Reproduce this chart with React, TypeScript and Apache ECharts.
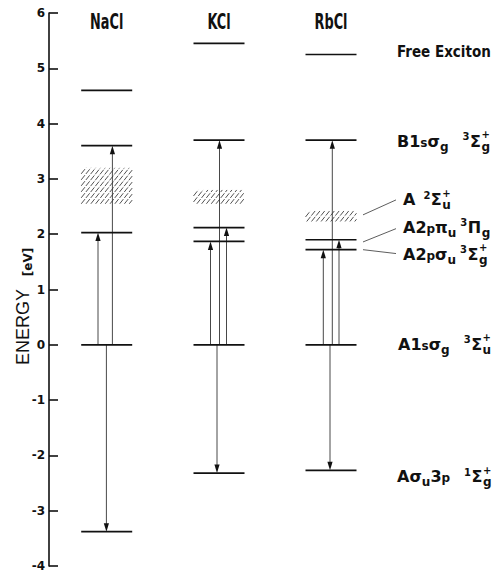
import React, { useEffect, useRef } from "react";
import * as echarts from "echarts";

// ---------------- data ----------------
const compounds = ["NaCl", "KCl", "RbCl"];
const levelsNaCl = [4.6, 3.6, 2.03, 0, -3.38];
const levelsKCl = [5.45, 3.7, 2.12, 1.87, 0, -2.32];
const levelsRbCl = [5.25, 3.7, 1.9, 1.72, 0, -2.27];
const bandNaCl = [2.55, 3.2];
const bandKCl = [2.55, 2.8];
const bandRbCl = [2.23, 2.42];
const transNaCl = [[0, 2.03], [0, 3.6], [0, -3.38]];
const transKCl = [[0, 1.87], [0, 3.7], [0, 2.12], [0, -2.32]];
const transRbCl = [[0, 1.72], [0, 3.7], [0, 1.9], [0, -2.27]];
const stateValues = [5.3, 3.68, 2.62, 2.12, 1.63, 0, -2.39];
const leaderFrom = [2.35, 1.86, 1.72];
const leaderTo = [2.62, 2.1, 1.65];
const yMin = -4;
const yMax = 6;
const yStep = 1;

// ---------------- layout ----------------
const COL_X = [57.7, 170, 282];
const HALF = 25.5;
const ARROW_DX = [
  [-8.7, 5.7, -0.3],
  [-8.5, 0.5, 7.5, -2],
  [-7.7, 1.3, 8, -1],
];
const LABEL_X = [348, 348, 354, 354, 354, 349, 348];
const LEADER_X0 = 314;
const LEADER_X1 = 347;
const HEADER_V = 5.84;
const INK = "#111";
const FAM = "'DejaVu Sans', sans-serif";
const FAM_C = "'DejaVu Sans Condensed', 'DejaVu Sans', sans-serif";
const M = 16;

type Tok = { t?: string; s?: number; dy?: number; g?: number; st?: Tok[]; f?: string };
const P = (t: string, s: number = M, dy: number = 0): Tok => ({ t, s, dy });
const G = (g: number): Tok => ({ g });
const ST = (a: Tok, b: Tok): Tok => ({ st: [a, b] });
const SUP = (t: string) => P(t, 10, -7);
const SUB = (t: string) => P(t, 12, 4);
const PLUS = () => P("+", 10, -9);

const labelTokens: Tok[][] = [
  [{ t: "Free Exciton", s: 15, dy: 0, f: FAM_C }],
  [P("B1"), P("s", 12), P("σ"), SUB("g"), G(14), SUP("3"), G(0.5), P("Σ"), G(0.5), ST(PLUS(), SUB("g"))],
  [P("A"), G(8), SUP("2"), G(0.5), P("Σ"), G(0.5), ST(PLUS(), SUB("u"))],
  [P("A2"), P("p", 12), P("π"), SUB("u"), G(4), SUP("3"), G(0.5), P("Π"), G(0.5), SUB("g")],
  [P("A2"), P("p", 12), P("σ"), SUB("u"), G(4), SUP("3"), G(0.5), P("Σ"), G(0.5), ST(PLUS(), SUB("g"))],
  [P("A1"), P("s", 12), P("σ"), SUB("g"), G(14), SUP("3"), G(0.5), P("Σ"), G(0.5), ST(PLUS(), SUB("u"))],
  [P("A"), P("σ"), SUB("u"), P("3"), P("p", 12), G(14), SUP("1"), G(0.5), P("Σ"), G(0.5), ST(PLUS(), SUB("g"))],
];

type Placed = { t: string; s: number; dx: number; dy: number; f: string };

function layoutLabels(): Placed[][] {
  const ctx = document.createElement("canvas").getContext("2d")!;
  const w = (t: string, s: number, f: string) => {
    ctx.font = `bold ${s}px ${f}`;
    return ctx.measureText(t).width;
  };
  return labelTokens.map((toks) => {
    let x = 0;
    const out: Placed[] = [];
    toks.forEach((k) => {
      if (k.g !== undefined) {
        x += k.g;
      } else if (k.st) {
        let mw = 0;
        k.st.forEach((q) => {
          const f = q.f || FAM;
          out.push({ t: q.t!, s: q.s!, dx: x, dy: q.dy!, f });
          mw = Math.max(mw, w(q.t!, q.s!, f));
        });
        x += mw;
      } else {
        const f = k.f || FAM;
        out.push({ t: k.t!, s: k.s!, dx: x, dy: k.dy!, f });
        x += w(k.t!, k.s!, f);
      }
    });
    return out;
  });
}

export default function App() {
  const ref = useRef<HTMLDivElement>(null);
  useEffect(() => {
    if (!ref.current) return;
    const chart = echarts.init(ref.current, undefined, { renderer: "svg" });
    const allLevels = [levelsNaCl, levelsKCl, levelsRbCl];
    const allBands = [bandNaCl, bandKCl, bandRbCl];
    const allTrans = [transNaCl, transKCl, transRbCl];
    const placed = layoutLabels();

    const levelData: number[][] = [];
    allLevels.forEach((ls, i) => ls.forEach((v) => levelData.push([i, v])));
    const bandData = allBands.map((b, i) => [i, b[0], b[1]]);
    const transData: number[][] = [];
    allTrans.forEach((ts, i) => ts.forEach((t, j) => transData.push([i, j, t[0], t[1]])));
    const headerData = compounds.map((_, i) => [i, HEADER_V]);
    const labelData = stateValues.map((v, i) => [i, v]);
    const leaderData = leaderFrom.map((v, i) => [v, leaderTo[i]]);

    const option: any = {
      animation: false,
      grid: { left: 49, top: 13, width: 447, height: 553 },
      xAxis: { type: "value", min: 0, max: 447, show: false },
      yAxis: {
        type: "value",
        min: yMin,
        max: yMax,
        interval: yStep,
        axisLine: { show: true, onZero: false, lineStyle: { color: INK, width: 1.6 } },
        axisTick: { show: true, inside: true, length: 9, lineStyle: { color: INK, width: 1.6 } },
        axisLabel: { color: INK, fontWeight: "bold", fontSize: 12, fontFamily: FAM, margin: 4 },
        splitLine: { show: false },
      },
      graphic: [
        {
          type: "text",
          x: 23,
          y: 327,
          rotation: Math.PI / 2,
          style: { text: "ENERGY", fontSize: 18, fontFamily: "'Liberation Sans', sans-serif", fill: INK, align: "center", verticalAlign: "middle" },
        },
        {
          type: "text",
          x: 28,
          y: 262,
          rotation: Math.PI / 2,
          style: { text: "[eV]", fontSize: 12, fontWeight: "bold", fontFamily: FAM, fill: INK, align: "center", verticalAlign: "middle" },
        },
      ],
      series: [
        {
          type: "custom",
          name: "bands",
          data: bandData,
          clip: false,
          renderItem: (params: any, api: any) => {
            const i = api.value(0);
            const xc = COL_X[i];
            const p0 = api.coord([xc - HALF, api.value(2)]);
            const p1 = api.coord([xc + HALF, api.value(1)]);
            const x0 = p0[0], y0 = p0[1], x1 = p1[0], y1 = p1[1];
            const h = y1 - y0;
            const run = 0.8 * h;
            const children: any[] = [];
            for (let c = x0 - run; c < x1; c += 4.8) {
              const ta = Math.max(0, (x0 - c) / run);
              const tb = Math.min(1, (x1 - c) / run);
              if (tb <= ta) continue;
              children.push({
                type: "line",
                shape: { x1: c + ta * run, y1: y1 - ta * h, x2: c + tb * run, y2: y1 - tb * h },
                style: { stroke: "#333", lineWidth: 0.85, lineDash: [6, 1.5] },
              });
            }
            return { type: "group", children };
          },
        },
        {
          type: "custom",
          name: "transitions",
          data: transData,
          clip: false,
          renderItem: (params: any, api: any) => {
            const i = api.value(0);
            const j = api.value(1);
            const x = COL_X[i] + ARROW_DX[i][j];
            const a = api.coord([x, api.value(2)]);
            const b = api.coord([x, api.value(3)]);
            const dir = b[1] < a[1] ? 1 : -1;
            return {
              type: "group",
              children: [
                { type: "line", shape: { x1: a[0], y1: a[1], x2: b[0], y2: b[1] + dir * 4 }, style: { stroke: "#333", lineWidth: 0.9 } },
                {
                  type: "polygon",
                  shape: { points: [[b[0], b[1]], [b[0] - 2.6, b[1] + dir * 8.5], [b[0] + 2.6, b[1] + dir * 8.5]] },
                  style: { fill: INK },
                },
              ],
            };
          },
        },
        {
          type: "custom",
          name: "levels",
          data: levelData,
          clip: false,
          renderItem: (params: any, api: any) => {
            const xc = COL_X[api.value(0)];
            const a = api.coord([xc - HALF, api.value(1)]);
            const b = api.coord([xc + HALF, api.value(1)]);
            return { type: "line", shape: { x1: a[0], y1: a[1], x2: b[0], y2: b[1] }, style: { stroke: INK, lineWidth: 1.7 } };
          },
        },
        {
          type: "custom",
          name: "headers",
          data: headerData,
          clip: false,
          renderItem: (params: any, api: any) => {
            const i = api.value(0);
            const p = api.coord([COL_X[i], api.value(1)]);
            return {
              type: "text",
              x: p[0],
              y: p[1],
              scaleX: 0.68,
              style: { text: compounds[i], fontSize: 21, fontWeight: "bold", fontFamily: FAM_C, fill: INK, align: "center", verticalAlign: "middle" },
            };
          },
        },
        {
          type: "custom",
          name: "leaders",
          data: leaderData,
          clip: false,
          renderItem: (params: any, api: any) => {
            const a = api.coord([LEADER_X0, api.value(0)]);
            const b = api.coord([LEADER_X1, api.value(1)]);
            return { type: "line", shape: { x1: a[0], y1: a[1], x2: b[0], y2: b[1] }, style: { stroke: "#333", lineWidth: 0.8 } };
          },
        },
        {
          type: "custom",
          name: "states",
          data: labelData,
          clip: false,
          renderItem: (params: any, api: any) => {
            const i = api.value(0);
            const p = api.coord([LABEL_X[i], api.value(1)]);
            const baseline = p[1] + 0.36 * M;
            return {
              type: "group",
              children: placed[i].map((q) => ({
                type: "text",
                x: p[0] + q.dx,
                y: baseline + q.dy - 0.36 * q.s,
                style: { text: q.t, fontSize: q.s, fontWeight: "bold", fontFamily: q.f, fill: INK, align: "left", verticalAlign: "middle" },
              })),
            };
          },
        },
      ],
    };
    chart.setOption(option);
    return () => chart.dispose();
  }, []);
  return <div ref={ref} style={{ position: "absolute", left: 0, top: 0, width: 496, height: 572 }} />;
}
